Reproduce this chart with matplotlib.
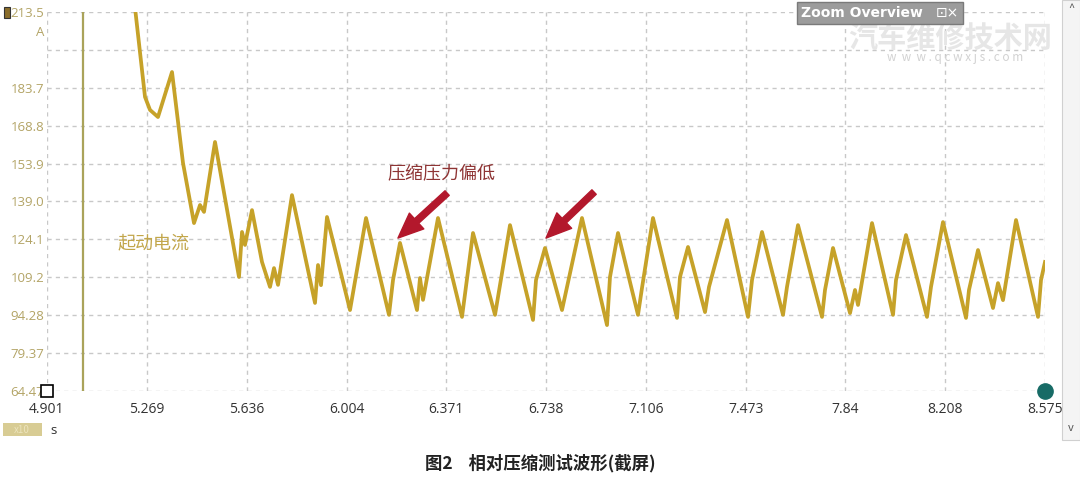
import matplotlib
matplotlib.use("Agg")
from matplotlib import pyplot as plt
from matplotlib.patches import Rectangle

plt.rcParams['font.family'] = ['Noto Sans CJK SC', 'DejaVu Sans']

# 数据: 时间 (s) 与 电流 (A)
t_s = [5.2176, 5.2618, 5.2802, 5.3096, 5.3612, 5.4017, 5.4422, 5.4643, 5.4790, 5.5195,
       5.6078, 5.6189, 5.6299, 5.6557, 5.6925, 5.7220, 5.7367, 5.7514, 5.8029, 5.8876,
       5.8987, 5.9097, 5.9318, 6.0165, 6.0754, 6.1600, 6.1748, 6.2005, 6.2631, 6.2742,
       6.2852, 6.3404, 6.4288, 6.4693, 6.5503, 6.6055, 6.6902, 6.7012, 6.7343, 6.7969,
       6.8705, 6.9626, 6.9736, 7.0031, 7.0767, 7.0914, 7.1319, 7.2203, 7.2313, 7.2608,
       7.3234, 7.3381, 7.4044, 7.4817, 7.4964, 7.5332, 7.6105, 7.6252, 7.6657, 7.7541,
       7.7651, 7.7946, 7.8572, 7.8756, 7.8866, 7.9382, 8.0155, 8.0265, 8.0633, 8.1406,
       8.1553, 8.1995, 8.2842, 8.2952, 8.3284, 8.3836, 8.4020, 8.4204, 8.4683, 8.5493,
       8.5603, 8.5750]
i_a = [222.2, 180.1, 175.0, 172.2, 189.9, 154.1, 130.5, 137.6, 134.9, 162.4,
       109.3, 127.0, 121.9, 135.6, 115.2, 105.4, 112.8, 106.2, 141.5, 99.1,
       114.0, 106.1, 132.9, 96.3, 132.5, 94.4, 108.1, 122.7, 96.3, 108.9,
       100.3, 132.5, 93.6, 126.6, 94.4, 129.7, 92.4, 108.1, 120.7, 96.3,
       132.5, 90.4, 109.3, 126.6, 94.4, 105.0, 132.5, 93.2, 109.3, 121.1,
       95.5, 105.4, 131.7, 93.6, 108.1, 127.0, 94.4, 105.4, 129.7, 93.6,
       104.2, 120.7, 95.1, 104.2, 98.3, 130.5, 94.4, 108.1, 125.8, 93.6,
       105.4, 130.9, 93.2, 104.2, 119.9, 97.1, 106.9, 100.2, 131.7, 93.6,
       108.1, 115.2]

x_ticks = [4.901, 5.269, 5.636, 6.004, 6.371, 6.738, 7.106, 7.473, 7.84, 8.208, 8.575]
y_ticks = [64.47, 79.37, 94.28, 109.2, 124.1, 139.0, 153.9, 168.8, 183.7, 198.6, 213.5]
y_labels = ["64.47", "79.37", "94.28", "109.2", "124.1", "139.0", "153.9", "168.8", "183.7", "", "213.5"]
cursor_t = 5.034

fig = plt.figure(figsize=(10.8, 4.78), dpi=100)
ax = fig.add_axes([47 / 1080, 1 - 391 / 478, 998 / 1080, 379 / 478])

ax.plot(t_s, i_a, color="#c6a229", lw=2.7, solid_joinstyle="round")
ax.axvline(cursor_t, color="#aaa35a", lw=1.6)

ax.set_xlim(x_ticks[0], x_ticks[-1])
ax.set_ylim(y_ticks[0], y_ticks[-1])
ax.set_xticks(x_ticks)
ax.set_xticklabels([str(v) for v in x_ticks], family=['Open Sans', 'DejaVu Sans'], fontsize=10, color="#333333")
ax.set_yticks(y_ticks)
ax.set_yticklabels(y_labels, family=['Open Sans', 'DejaVu Sans'], fontsize=9.5, color="#b3a466")
ax.tick_params(axis="both", length=0)
ax.tick_params(axis="x", pad=8)
ax.tick_params(axis="y", pad=2)
for s in ax.spines.values():
    s.set_visible(False)
ax.grid(True, color="#c8c8c8", ls=(0, (3, 3)), lw=1)

# 端点标记
ax.plot([x_ticks[0]], [y_ticks[0]], marker="s", ms=8, mfc="white", mec="black", mew=1.2, clip_on=False)
ax.plot([x_ticks[-1]], [y_ticks[0]], marker="o", ms=11, color="#176b66", clip_on=False)

# 注释
ax.text(5.162, 122.7, "起动电流", color="#c2a64a", fontsize=13, va="center")
ax.text(6.156, 150.2, "压缩压力偏低", color="#8e3434", fontsize=13, va="center")
arrow = dict(arrowstyle="simple,head_length=1.3,head_width=1.1,tail_width=0.32",
             color="#b3182c", mutation_scale=14, shrinkA=0, shrinkB=0)
ax.annotate("", xy=(6.193, 124.6), xytext=(6.374, 142.3), arrowprops=arrow)
ax.annotate("", xy=(6.738, 124.6), xytext=(6.915, 142.7), arrowprops=arrow)

# 单位 A
fig.text(44 / 1080, 1 - 33 / 478, "A", ha="right", va="center", color="#b3a466", fontsize=9.5,
         family=['Open Sans', 'DejaVu Sans'])
# 左上小方块
fig.patches.append(Rectangle((4 / 1080, 1 - 18 / 478), 6 / 1080, 11 / 478, transform=fig.transFigure,
                             facecolor="#8a6d2a", edgecolor="#333333", lw=0.8))

# 底部单位
fig.patches.append(Rectangle((3 / 1080, 1 - 436 / 478), 39 / 1080, 13 / 478, transform=fig.transFigure,
                             facecolor="#d8cc94", edgecolor="none"))
fig.text(22 / 1080, 1 - 430 / 478, "x10", ha="center", va="center", color="#ece4bd", fontsize=7)
fig.text(50 / 1080, 1 - 430 / 478, "s", ha="left", va="center", color="#333333", fontsize=9.5,
         family=['Open Sans', 'DejaVu Sans'])

# 右侧滚动条
fig.patches.append(Rectangle((1062 / 1080, 1 - 440 / 478), 18 / 1080, 440 / 478, transform=fig.transFigure,
                             facecolor="#f4f4f4", edgecolor="#d0d0d0", lw=0.8))
fig.text(1071 / 1080, 1 - 8 / 478, "^", ha="center", va="center", color="#555555", fontsize=8)
fig.text(1071 / 1080, 1 - 428 / 478, "v", ha="center", va="center", color="#555555", fontsize=8)

# 水印
fig.text(950 / 1080, 1 - 38 / 478, "汽车维修技术网", ha="center", va="center", color="#e6e6e6",
         fontsize=21, fontweight="bold", zorder=0)
fig.text(955 / 1080, 1 - 58 / 478, "w  w  w . q c w x j s . c o m", ha="center", va="center",
         color="#d2d2d2", fontsize=8.5)

# Zoom Overview 框
fig.patches.append(Rectangle((797 / 1080, 1 - 24 / 478), 166 / 1080, 22 / 478, transform=fig.transFigure,
                             facecolor="#9c9c9c", edgecolor="#7a7a7a", lw=1))
fig.text(801 / 1080, 1 - 13 / 478, "Zoom Overview", ha="left", va="center", color="white",
         fontsize=10, fontweight="bold", family=['DejaVu Sans'])
fig.text(947 / 1080, 1 - 13 / 478, "⊡×", ha="center", va="center", color="white", fontsize=10,
         family=['DejaVu Sans'])

# 图题
fig.text(540 / 1080, 1 - 463 / 478, "图2    相对压缩测试波形(截屏)", ha="center", va="center",
         color="#222222", fontsize=12.5, fontweight="bold")

fig.savefig("out.png", dpi=100)
